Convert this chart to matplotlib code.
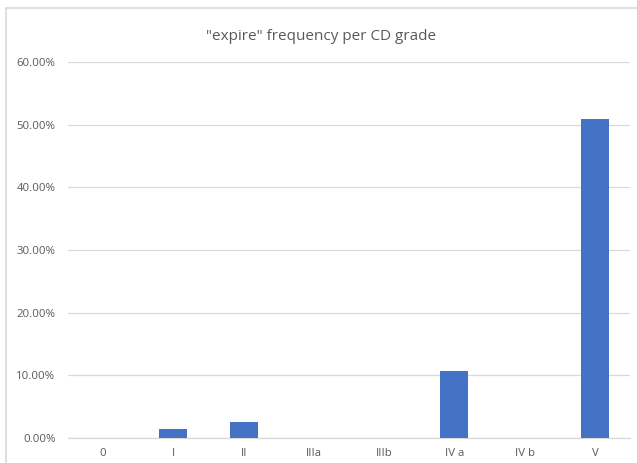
import matplotlib
matplotlib.use("Agg")
import matplotlib.pyplot as plt
from matplotlib.patches import Rectangle
from matplotlib.ticker import PercentFormatter

# CD grade categories and share of "expire" outcomes
grades = ["0", "I", "II", "IIIa", "IIIb", "IV a", "IV b", "V"]
expire_freq = [0.0, 1.48, 2.60, 0.0, 0.0, 10.70, 0.0, 50.85]
y_ticks = [0, 10, 20, 30, 40, 50, 60]

plt.rcParams["font.family"] = ["Open Sans", "DejaVu Sans"]

fig = plt.figure(figsize=(6.37, 4.63), dpi=100)
ax = fig.add_axes([68 / 637, 1 - 438 / 463, 562 / 637, 376 / 463])

# light chart-area border
fig.patches.append(Rectangle((6.5 / 637, -0.05), 1.2, 1 - 7.5 / 463 + 0.05,
                             transform=fig.transFigure, fill=False,
                             edgecolor="#d9d9d9", linewidth=1.2))

x = range(len(grades))
ax.bar(x, expire_freq, width=0.4, color="#4472C4", zorder=3)

ax.set_xlim(-0.5, len(grades) - 0.5)
ax.set_ylim(0, 60)
ax.set_yticks(y_ticks)
ax.yaxis.set_major_formatter(PercentFormatter(decimals=2))
ax.set_xticks(list(x))
ax.set_xticklabels(grades)

ax.grid(axis="y", color="#d9d9d9", linewidth=0.9, zorder=0)
for side in ["top", "right", "left"]:
    ax.spines[side].set_visible(False)
ax.spines["bottom"].set_color("#d9d9d9")
ax.spines["bottom"].set_linewidth(0.9)
ax.tick_params(axis="both", length=0, labelsize=8.2, labelcolor="#595959")
ax.tick_params(axis="y", pad=9)
ax.tick_params(axis="x", pad=7)

fig.text(321 / 637, 1 - 37 / 463, '"expire" frequency per CD grade',
         ha="center", va="center", fontsize=11, color="#595959")

fig.savefig("out.png", dpi=100)
